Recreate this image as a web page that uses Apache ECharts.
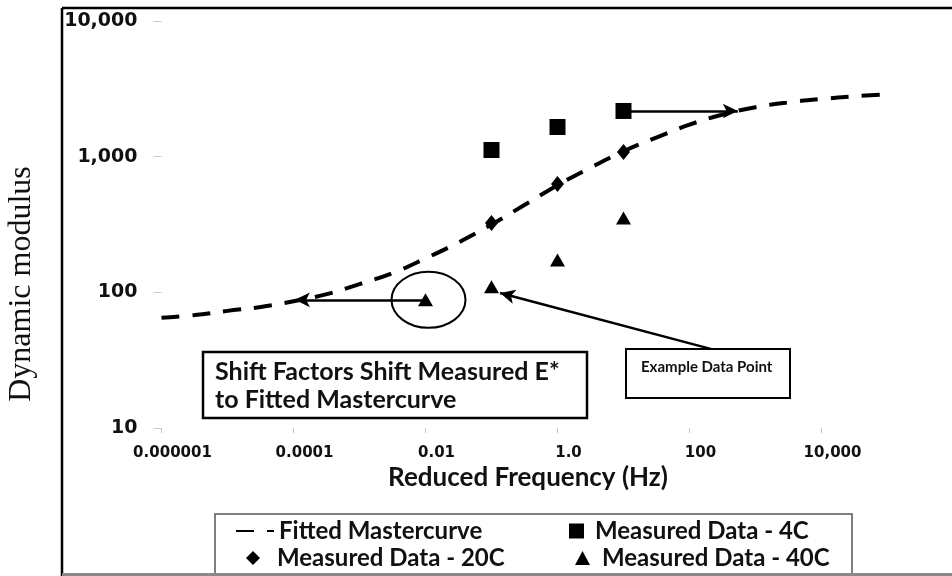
<!DOCTYPE html>
<html><head><meta charset="utf-8">
<script src="https://cdn.jsdelivr.net/npm/echarts@6/dist/echarts.min.js"></script>
<style>html,body{margin:0;padding:0;background:#fff}#c{width:952px;height:576px}</style>
</head><body><div id="c"></div>
<script>
// ---- data (frequency in Hz, dynamic modulus) ----
const xTickLabels = {'-6':'0.000001','-4':'0.0001','-2':'0.01','0':'1.0','2':'100','4':'10,000'};
const yTickLabels = {'1':'10','2':'100','3':'1,000','4':'10,000'};

const curveFreq = [0.000001,0.0000032,0.00001,0.000032,0.0001,0.00032,0.001,0.0032,0.01,0.032,0.1,0.32,1,3.2,10,32,100,320,1000,3200,10000,32000,100000];
const curveModulus = [65,68,73,78,86,97,115,139,178,234,316,442,617,832,1096,1387,1722,2046,2317,2512,2661,2786,2884];

const freq4C = [0.1,1,10];
const mod4C = [1120,1655,2172];
const freq20C = [0.1,1,10];
const mod20C = [324,629,1083];
const freq40C = [0.01,0.1,1,10];
const mod40C = [88,110,173,353];

// annotation anchors (Hz, modulus)
const shiftArrowFrom = [0.01, 88];
const shiftArrowTo = [0.000105, 88];
const hotArrowFrom = [10, 2172];
const hotArrowTo = [540, 2172];
const exampleArrowFrom = [310, 36.4];
const exampleArrowTo = [0.135, 99];

const L = Math.log10;
const pts = (xs, ys) => xs.map((x, i) => [L(x), L(ys[i])]);

const chart = echarts.init(document.getElementById('c'));
const lblFont = {fontFamily:'Lato', fontWeight:'bold', fontSize:24, color:'#111'};
function leg(name, left, top, w, h, padLeft, extra) {
  return Object.assign({data:[name], left:left, top:top, itemWidth:w, itemHeight:h, padding:0, selectedMode:false,
    textStyle:Object.assign({padding:[0,0,0,padLeft]}, lblFont), itemStyle:{color:'#000', opacity:1}}, extra || {});
}

chart.setOption({
  animation:false,
  backgroundColor:'#fff',
  grid:{left:161.5, top:21, width:726, height:407},
  xAxis:{type:'value', min:-6, max:5, interval:2,
    axisLine:{show:false, onZero:false}, splitLine:{show:false},
    axisTick:{show:true, length:5, lineStyle:{color:'#c8c8c8', width:1}},
    axisLabel:{margin:18, padding:[0,0,0,22], showMaxLabel:false, formatter:v=>xTickLabels[String(v)] ?? '', fontFamily:'DejaVu Sans', fontWeight:'bold', fontSize:15, color:'#111'}},
  yAxis:{type:'value', min:1, max:4, interval:1,
    axisLine:{show:false, onZero:false}, splitLine:{show:false},
    axisTick:{show:true, length:8, lineStyle:{color:'#c8c8c8', width:1}},
    axisLabel:{margin:24, formatter:v=>yTickLabels[String(v)] ?? '', fontFamily:'DejaVu Sans', fontWeight:'bold', fontSize:19, color:'#111'}},
  legend:[
    leg('Fitted Mastercurve', 235, 519, 38, 14, 0, {itemStyle:{color:'rgba(0,0,0,0)', borderColor:'rgba(0,0,0,0)', opacity:0}}),
    leg('Measured Data - 4C', 569, 519, 15, 15, 6),
    leg('Measured Data - 20C', 246, 546, 14, 14, 12),
    leg('Measured Data - 40C', 575, 546, 15, 14, 7)
  ],
  series:[
    {name:'Fitted Mastercurve', type:'line', data:pts(curveFreq, curveModulus), smooth:0.4, symbol:'none',
      lineStyle:{color:'#000', width:4, type:[18,13]}, itemStyle:{color:'#000'}, z:3},
    {name:'Measured Data - 4C', type:'scatter', data:pts(freq4C, mod4C), symbol:'rect', symbolSize:16,
      itemStyle:{color:'#000', opacity:1}, z:4,
      markLine:{silent:true, symbol:['none','arrow'], symbolSize:[11,15], label:{show:false},
        lineStyle:{color:'#000', width:2.5, type:'solid', opacity:1},
        data:[[{coord:[L(hotArrowFrom[0]), L(hotArrowFrom[1])]},{coord:[L(hotArrowTo[0]), L(hotArrowTo[1])]}]]}},
    {name:'Measured Data - 20C', type:'scatter', data:pts(freq20C, mod20C), symbol:'diamond', symbolSize:[13,16],
      itemStyle:{color:'#000', opacity:1}, z:4},
    {name:'Measured Data - 40C', type:'scatter', data:pts(freq40C, mod40C), symbol:'triangle', symbolSize:[15,13],
      itemStyle:{color:'#000', opacity:1}, z:4,
      markLine:{silent:true, symbol:['none','arrow'], symbolSize:[11,15], label:{show:false},
        lineStyle:{color:'#000', width:2.5, type:'solid', opacity:1},
        data:[
          [{coord:[L(shiftArrowFrom[0]), L(shiftArrowFrom[1])]},{coord:[L(shiftArrowTo[0]), L(shiftArrowTo[1])]}],
          [{coord:[L(exampleArrowFrom[0]), L(exampleArrowFrom[1])]},{coord:[L(exampleArrowTo[0]), L(exampleArrowTo[1])]}]
        ]}}
  ]
});

const circ = chart.convertToPixel({gridIndex:0}, [L(freq40C[0]), L(mod40C[0])]);
chart.setOption({
  graphic:[
    {id:'frameL', type:'line', shape:{x1:62, y1:8, x2:62, y2:576}, style:{stroke:'#000', lineWidth:2.5}, z:10},
    {id:'frameT', type:'line', shape:{x1:62, y1:8, x2:952, y2:8}, style:{stroke:'#000', lineWidth:2.5}, z:10},
    {id:'frameB', type:'line', shape:{x1:62, y1:574.5, x2:952, y2:574.5}, style:{stroke:'#8a8a8a', lineWidth:3}, z:10},
    {id:'legBox', type:'rect', shape:{x:215, y:514, width:637, height:70}, style:{fill:null, stroke:'#555', lineWidth:1.5}, z:1},
    {id:'ytitle', type:'text', x:22, y:284, rotation:Math.PI/2,
      style:{text:'Dynamic modulus', font:'32px "Liberation Serif"', fill:'#111', align:'center', verticalAlign:'middle'}},
    {id:'xtitle', type:'text', x:528, y:478,
      style:{text:'Reduced Frequency (Hz)', font:'bold 26px Lato', fill:'#111', align:'center', verticalAlign:'middle'}},
    {id:'shiftBox', type:'rect', shape:{x:203, y:352, width:384, height:66}, style:{fill:'#fff', stroke:'#000', lineWidth:2.5}, z:5},
    {id:'shiftText', type:'text', x:215, y:386, z:6,
      style:{text:'Shift Factors Shift Measured E*\nto Fitted Mastercurve', font:'bold 25px Lato', lineHeight:28, fill:'#111', align:'left', verticalAlign:'middle'}},
    {id:'exBox', type:'rect', shape:{x:626, y:349, width:164, height:49}, style:{fill:'#fff', stroke:'#000', lineWidth:2}, z:5},
    {id:'exText', type:'text', x:641, y:367, z:6,
      style:{text:'Example Data Point', font:'bold 15px Lato', fill:'#111', align:'left', verticalAlign:'middle'}},
    {id:'circ', type:'ellipse', shape:{cx:circ[0]+3, cy:circ[1], rx:37, ry:28}, style:{fill:null, stroke:'#000', lineWidth:2}, z:5}
  ]
});
</script></body></html>
